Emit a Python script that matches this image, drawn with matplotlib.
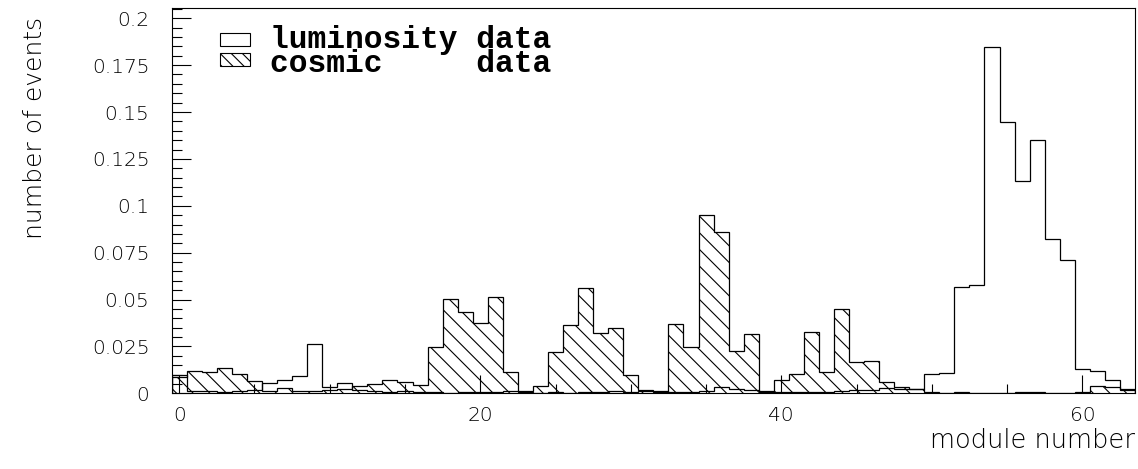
import numpy as np
import matplotlib
matplotlib.use("Agg")
import matplotlib.pyplot as plt
from matplotlib.patches import Rectangle
from matplotlib.ticker import MultipleLocator, FormatStrFormatter

# module occupancy, normalised, modules 0..63
modules = np.arange(64)

lumi = [0.0097, 0.0010, 0.0010, 0.0008, 0.0010, 0.0018, 0.0055, 0.0071,
        0.0093, 0.0262, 0.0032, 0.0053, 0.0015, 0.0012, 0.0008, 0.0010,
        0.0008, 0.0005, 0.0004, 0.0008, 0.0006, 0.0008, 0.0010, 0.0005,
        0.0004, 0.0006, 0.0004, 0.0005, 0.0009, 0.0012, 0.0008, 0.0012,
        0.0014, 0.0008, 0.0006, 0.0012, 0.0032, 0.0025, 0.0018, 0.0009,
        0.0008, 0.0006, 0.0008, 0.0008, 0.0012, 0.0015, 0.0020, 0.0028,
        0.0023, 0.0025, 0.0102, 0.0110, 0.0566, 0.0576, 0.1844, 0.1445,
        0.1132, 0.1351, 0.0825, 0.0709, 0.0128, 0.0120, 0.0071, 0.0025]

cosmic = [0.0088, 0.0119, 0.0113, 0.0136, 0.0101, 0.0065, 0.0012, 0.0028,
          0.0012, 0.0012, 0.0015, 0.0025, 0.0039, 0.0051, 0.0069, 0.0062,
          0.0044, 0.0248, 0.0505, 0.0434, 0.0376, 0.0516, 0.0115, 0.0012,
          0.0039, 0.0221, 0.0363, 0.0559, 0.0323, 0.0346, 0.0097, 0.0018,
          0.0009, 0.0372, 0.0245, 0.0949, 0.0860, 0.0225, 0.0314, 0.0012,
          0.0071, 0.0103, 0.0325, 0.0115, 0.0449, 0.0168, 0.0174, 0.0059,
          0.0034, 0.0023, 0.0005, 0.0003, 0.0008, 0.0004, 0.0003, 0.0004,
          0.0006, 0.0008, 0.0004, 0.0002, 0.0008, 0.0039, 0.0032, 0.0018]

legend_labels = ["luminosity data", "cosmic     data"]

W, H = 1138, 469
plt.rcParams["hatch.linewidth"] = 0.8
plt.rcParams["font.family"] = ["DejaVu Sans"]

fig = plt.figure(figsize=(W / 100, H / 100), dpi=100)
ax = fig.add_axes([171.7 / W, 1 - 393.3 / H, (1135 - 171.7) / W, (393.3 - 8.3) / H])

edges = np.append(modules - 0.5, modules[-1] + 0.5)
ax.stairs(cosmic, edges, fill=True, facecolor="none", edgecolor="black",
          hatch="\\\\", linewidth=0.9)
ax.stairs(lumi, edges, fill=False, edgecolor="black", linewidth=0.9)

ax.set_xlim(-0.5, 63.5)
ax.set_ylim(0, 0.2053)

ax.xaxis.set_major_locator(MultipleLocator(20))
ax.xaxis.set_minor_locator(MultipleLocator(5))
ax.yaxis.set_major_locator(MultipleLocator(0.025))
ax.yaxis.set_minor_locator(MultipleLocator(0.005))
ax.yaxis.set_major_formatter(FormatStrFormatter("%g"))

ax.tick_params(which="both", direction="in", top=False, right=False,
               width=0.8, labelsize=14.5, colors="black")
ax.tick_params(axis="y", which="major", length=13.5, pad=16)
ax.tick_params(axis="y", which="minor", length=7)
ax.tick_params(axis="x", which="major", length=13, pad=9)
ax.tick_params(axis="x", which="minor", length=6.5)
for lab in ax.get_xticklabels() + ax.get_yticklabels():
    lab.set_fontweight("light")
for s in ax.spines.values():
    s.set_linewidth(0.8)

fig.text(1135 / W, 1 - 440 / H, "module number", ha="right", va="center",
         fontsize=18.5, fontweight="light")
fig.text(35 / W, 1 - 128 / H, "number of events", ha="center", va="center",
         rotation=90, fontsize=18, fontweight="light")

# legend boxes and labels
box_w, box_h = 30 / W, 13.3 / H
fig.patches.append(Rectangle((220 / W, 1 - 46 / H), box_w, box_h,
                             transform=fig.transFigure, facecolor="none",
                             edgecolor="black", linewidth=0.8))
fig.patches.append(Rectangle((220 / W, 1 - 66 / H), box_w, box_h,
                             transform=fig.transFigure, facecolor="none",
                             edgecolor="black", linewidth=0.8, hatch="\\\\\\"))
fig.text(270 / W, 1 - 71.5 / H, "\n".join(legend_labels), ha="left",
         va="baseline", family="Liberation Mono", fontweight="bold",
         fontsize=22.5, linespacing=0.7)

fig.savefig("out.png", dpi=100)
